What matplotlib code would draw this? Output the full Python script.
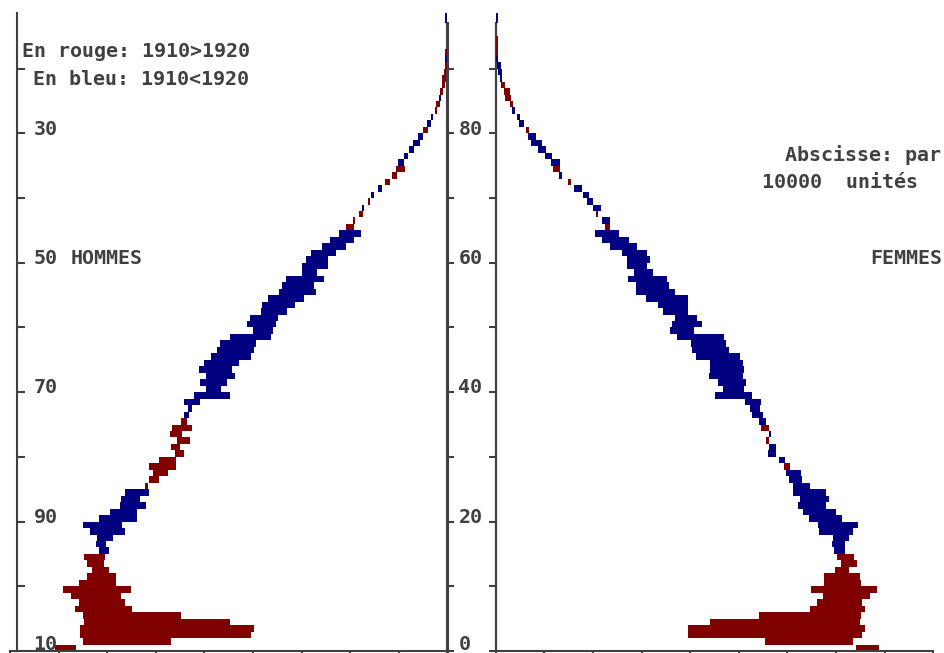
import numpy as np
import matplotlib
matplotlib.use("Agg")
import matplotlib.pyplot as plt
from matplotlib import transforms

# effectifs par age, en unites de 10000
ages = np.arange(99)
hommes_1910 = [40.4, 37.5, 37.8, 37.8, 37.4, 37.5, 38.3, 37.9, 38.7, 39.5,
               37.9, 37.1, 36.6, 37.1, 37.4, 34.8, 35.1, 34.4, 33.2, 33.5,
               31.9, 31.9, 31.0, 31.6, 30.7, 31.1, 30.7, 30.3, 30.7, 29.7,
               28.0, 28.4, 27.8, 28.5, 28.3, 27.4, 26.6, 26.3, 25.4, 22.4,
               23.3, 22.7, 21.8, 22.2, 21.4, 20.2, 19.9, 19.7, 18.1, 17.9,
               17.6, 17.4, 16.5, 15.7, 14.7, 13.5, 13.7, 12.7, 13.4, 12.3,
               12.3, 11.5, 10.4, 9.6, 8.9, 10.4, 9.7, 9.1, 8.6, 8.2,
               7.5, 6.7, 6.4, 5.7, 5.3, 4.45, 4.0, 3.4, 2.8, 2.5,
               2.5, 1.7, 1.5, 1.27, 1.16, 0.65, 0.75, 0.55, 0.55, 0.34,
               0.24, 0.03, 0.24, 0.1, 0.08, 0.05, 0.03, 0.0, 0.0]
hommes_1920 = [38.2, 28.4, 20.2, 19.9, 22.4, 27.4, 32.4, 33.2, 33.6, 32.5,
               34.1, 34.1, 34.8, 35.3, 35.2, 35.8, 36.2, 36.0, 36.8, 37.5,
               35.8, 34.7, 33.7, 33.6, 33.2, 30.8, 29.7, 28.7, 27.9, 27.9,
               27.1, 27.5, 26.5, 27.3, 26.3, 26.8, 27.1, 26.7, 27.1, 26.1,
               24.8, 25.4, 24.8, 25.5, 25.0, 24.3, 23.7, 23.4, 22.4, 20.0,
               20.6, 20.3, 19.2, 19.1, 18.4, 17.3, 17.0, 16.6, 15.0, 15.0,
               14.5, 14.0, 12.9, 12.1, 11.1, 9.6, 9.5, 8.7, 8.8, 8.0,
               7.9, 7.1, 5.9, 5.2, 4.35, 5.1, 4.45, 3.9, 3.5, 3.0,
               2.0, 2.1, 1.7, 1.06, 0.75, 0.85, 0.44, 0.24, 0.13, 0.13,
               0.03, 0.24, 0.03, 0.1, 0.08, 0.05, 0.03, 0.25, 0.25]
femmes_1910 = [39.4, 36.8, 37.7, 38.0, 37.5, 37.6, 38.0, 37.7, 38.5, 39.2,
               37.6, 37.5, 36.3, 37.2, 36.9, 34.8, 34.6, 34.7, 33.3, 33.2,
               32.2, 31.6, 31.1, 31.3, 30.6, 30.6, 30.2, 29.9, 30.3, 29.1,
               28.0, 28.1, 28.1, 28.1, 28.1, 27.1, 26.4, 26.2, 25.6, 22.6,
               23.4, 22.9, 21.9, 22.0, 22.0, 20.6, 20.2, 20.1, 18.7, 17.9,
               18.1, 18.4, 17.2, 16.7, 15.5, 14.4, 14.4, 13.6, 14.2, 13.5,
               13.5, 13.0, 11.8, 10.9, 10.2, 11.8, 10.9, 10.5, 10.0, 9.4,
               9.0, 8.1, 7.7, 6.5, 6.6, 5.7, 5.1, 4.4, 3.6, 3.3,
               3.4, 2.4, 2.2, 1.7, 1.8, 1.57, 1.47, 0.96, 0.44, 0.24,
               0.13, 0.03, 0.24, 0.24, 0.24, 0.05, 0.03, 0.0, 0.0]
femmes_1920 = [37.1, 27.7, 19.8, 19.8, 22.0, 27.1, 32.3, 33.1, 33.7, 32.4,
               33.8, 33.8, 34.9, 35.5, 35.1, 35.9, 35.9, 36.3, 36.8, 37.3,
               35.6, 35.0, 34.0, 34.3, 34.0, 32.3, 31.5, 31.4, 29.7, 29.8,
               28.8, 28.8, 27.8, 28.3, 27.3, 27.8, 27.5, 27.2, 27.3, 26.4,
               25.5, 25.8, 25.4, 25.5, 25.4, 25.1, 24.0, 23.7, 23.5, 20.4,
               21.2, 20.7, 19.8, 19.8, 19.8, 18.4, 17.8, 17.6, 16.2, 15.6,
               15.9, 15.6, 14.5, 13.7, 12.7, 11.2, 11.8, 10.3, 10.8, 10.0,
               9.6, 8.9, 7.4, 6.8, 5.9, 6.6, 5.8, 5.2, 4.8, 4.1,
               3.1, 2.9, 2.5, 2.0, 1.5, 0.96, 0.85, 0.55, 0.65, 0.65,
               0.55, 0.24, 0.03, 0.03, 0.03, 0.05, 0.03, 0.25, 0.25]

tick_ages = [0, 20, 40, 60, 80]
left_labels = ["10", "90", "70", "50", "30"]   # annee de naissance (recensement 1910)
mid_labels = ["0", "20", "40", "60", "80"]      # age

ROUGE = '#800000'
BLEU = '#000080'
GRIS = '#404040'

W, H = 945, 653
fig = plt.figure(figsize=(W / 100, H / 100), dpi=100)


def box(x0, x1, y0=13, y1=651):
    return [x0 / W, (H - y1) / H, (x1 - x0) / W, (y1 - y0) / H]


ax_mid = fig.add_axes(box(447.3, 495.7), zorder=0)
ax_h = fig.add_axes(box(10, 447.3), zorder=1)
ax_f = fig.add_axes(box(495.7, 933.1), zorder=1)

for ax in (ax_mid, ax_h, ax_f):
    ax.set_ylim(0, 98.6)
    ax.patch.set_visible(False)
    for s in ax.spines.values():
        s.set_visible(False)


def draw_diff(ax, v10, v20):
    v10 = np.array(v10)
    v20 = np.array(v20)
    lo = np.minimum(v10, v20)
    hi = np.maximum(v10, v20)
    colors = np.where(v10 > v20, ROUGE, BLEU)
    ax.barh(ages, hi - lo, left=lo, height=1, align='edge', color=colors,
            linewidth=0, antialiased=False)


draw_diff(ax_h, hommes_1910, hommes_1920)
draw_diff(ax_f, femmes_1910, femmes_1920)

# hommes
ax_h.set_xlim(45, 0)
ax_h.spines['bottom'].set_visible(True)
ax_h.spines['bottom'].set_color(GRIS)
ax_h.spines['bottom'].set_linewidth(1.5)
ax_h.spines['left'].set_visible(True)
ax_h.spines['left'].set_position(('data', 44.3))
ax_h.spines['left'].set_color(GRIS)
ax_h.spines['left'].set_linewidth(1.5)
ax_h.set_xticks(range(0, 50, 5))
ax_h.set_yticks(range(0, 100, 10))
ax_h.tick_params(axis='x', direction='out', length=3, width=1.5, color=GRIS, labelbottom=False)
ax_h.tick_params(axis='y', direction='in', length=5.5, width=1.5, color=GRIS, labelleft=False)

# femmes
ax_f.set_xlim(0, 45)
ax_f.spines['bottom'].set_visible(True)
ax_f.spines['bottom'].set_color(GRIS)
ax_f.spines['bottom'].set_linewidth(1.5)
ax_f.set_xticks(range(0, 50, 5))
ax_f.set_yticks([])
ax_f.tick_params(axis='x', direction='out', length=3, width=1.5, color=GRIS, labelbottom=False)

# axe central des ages
ax_mid.set_xlim(0, 1)
ax_mid.spines['left'].set_visible(True)
ax_mid.spines['left'].set_linewidth(2.2)
ax_mid.spines['right'].set_visible(True)
ax_mid.spines['right'].set_linewidth(1.6)
for side in ('left', 'right'):
    ax_mid.spines[side].set_color(GRIS)
    ax_mid.spines[side].set_bounds(0, 97)
ax_mid.set_xticks([])
ax_mid.set_yticks(range(0, 100, 10))
ax_mid.tick_params(axis='y', direction='in', length=5, width=1.5, color=GRIS,
                   left=True, right=True, labelleft=False)

txt = dict(family='DejaVu Sans Mono', weight='bold', size=14.4, color=GRIS,
           va='baseline', ha='left')
tr = transforms.blended_transform_factory(fig.transFigure, ax_h.transData)
for a, lab in zip(tick_ages, left_labels):
    ax_h.text(33.5 / W, max(a - 0.2, 0.15), lab, transform=tr, **txt)
for a, lab in zip(tick_ages, mid_labels):
    ax_h.text(458.5 / W, max(a - 0.2, 0.15), lab, transform=tr, **txt)
ax_h.text(71 / W, 60 - 0.2, "HOMMES", transform=tr, **txt)
ax_h.text(870 / W, 60 - 0.2, "FEMMES", transform=tr, **txt)


def px_text(x, y, s):
    fig.text(x / W, 1 - y / H, s, **txt)


px_text(22, 57.3, "En rouge: 1910>1920")
px_text(33.5, 84.8, "En bleu: 1910<1920")
px_text(785, 161, "Abscisse: par")
px_text(762, 188, "10000  unités")

fig.savefig("out.png", dpi=100)
